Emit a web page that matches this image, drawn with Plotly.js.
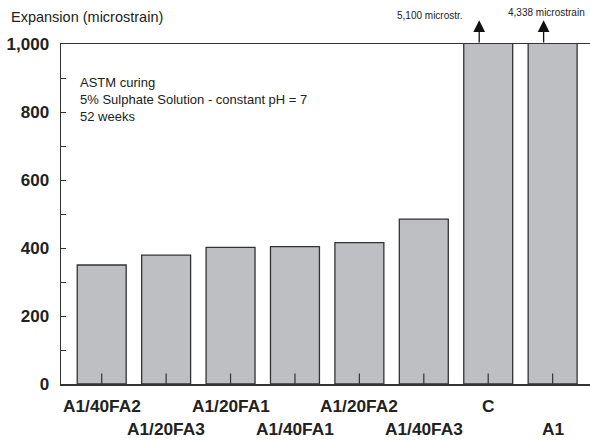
<!DOCTYPE html>
<html><head><meta charset="utf-8">
<script src="https://cdn.plot.ly/plotly-3.0.1.min.js"></script>
<style>html,body{margin:0;padding:0;background:#fff}#chart{width:590px;height:440px}</style>
</head><body><div id="chart"></div>
<script>
const categories = ["A1/40FA2","A1/20FA3","A1/20FA1","A1/40FA1","A1/20FA2","A1/40FA3","C","A1"];
const expansion = [350, 379, 402, 404, 416, 485, 5100, 4338];
const yTickVals = [0, 200, 400, 600, 800, 1000];
const noteLines = ["ASTM curing", "5% Sulphate Solution - constant pH = 7", "52 weeks"];
const offScaleLabels = {"C": "5,100 microstr.", "A1": "4,338 microstrain"};

const FONT = "Liberation Sans, Arial, sans-serif";
const annotations = [];
categories.forEach((c, i) => {
  annotations.push({
    x: c, xref: 'x', y: 0, yref: 'paper', yanchor: 'top', xanchor: 'center',
    yshift: i % 2 === 0 ? -10 : -33, showarrow: false, text: c,
    font: {family: FONT, size: 17.3, color: '#222', weight: 'bold'}
  });
});
annotations.push({
  x: 0.032, xref: 'paper', y: 0.915, yref: 'paper', xanchor: 'left', yanchor: 'top',
  align: 'left', showarrow: false, text: noteLines.join('<br>'),
  font: {family: FONT, size: 13, color: '#222'}
});
annotations.push({
  x: -0.098, xref: 'paper', y: 1.078, yref: 'paper', xanchor: 'left', yanchor: 'middle',
  showarrow: false, text: 'Expansion (microstrain)', font: {family: FONT, size: 14.5, color: '#222'}
});
const labelPos = {"C": [0.6975, 1.085], "A1": [0.917, 1.094]};
Object.keys(offScaleLabels).forEach(k => {
  const idx = categories.indexOf(k);
  annotations.push({
    x: idx - 0.14, xref: 'x', y: 1070, yref: 'y', ax: idx - 0.14, axref: 'x', ay: 1000, ayref: 'y',
    showarrow: true, arrowhead: 2, arrowsize: 1.8, arrowwidth: 1.3, arrowcolor: '#111', text: ''
  });
  annotations.push({
    x: labelPos[k][0], xref: 'paper', y: labelPos[k][1], yref: 'paper', xanchor: 'center', yanchor: 'middle',
    showarrow: false, text: offScaleLabels[k], font: {family: FONT, size: 10, color: '#222'}
  });
});

const bars = {
  type: 'bar', x: categories, y: expansion, width: 0.76,
  marker: {color: '#bebfc3', line: {color: '#333', width: 1.3}},
  hoverinfo: 'skip'
};
const tickMarks = {
  type: 'scatter', mode: 'markers', x: categories, y: categories.map(() => 0),
  marker: {symbol: 'line-ns-open', size: 15, color: '#333', line: {color: '#333', width: 1.2}},
  hoverinfo: 'skip', cliponaxis: true
};
const layout = {
  width: 590, height: 440,
  margin: {l: 61, r: 0, t: 44, b: 56, pad: 0},
  paper_bgcolor: '#fff', plot_bgcolor: '#fff',
  showlegend: false,
  font: {family: FONT, color: '#222'},
  xaxis: {
    type: 'category', range: [-0.632, 7.58], showgrid: false, zeroline: false,
    showline: true, linecolor: '#333', linewidth: 1.5, mirror: true,
    ticks: '', showticklabels: false, fixedrange: true
  },
  yaxis: {
    range: [0, 1000], showgrid: false, zeroline: false,
    showline: true, linecolor: '#333', linewidth: 1.5,
    tickvals: yTickVals, tickformat: ',d',
    ticks: 'inside', ticklen: 5, tickcolor: '#333', tickwidth: 1,
    minor: {dtick: 100, ticks: 'inside', ticklen: 5, tickcolor: '#333', tickwidth: 1},
    tickfont: {family: FONT, size: 17, color: '#222', weight: 'bold'},
    ticklabelstandoff: 7, fixedrange: true
  },
  annotations: annotations
};
Plotly.newPlot('chart', [bars, tickMarks], layout, {displayModeBar: false, staticPlot: true});
</script>
</body></html>
